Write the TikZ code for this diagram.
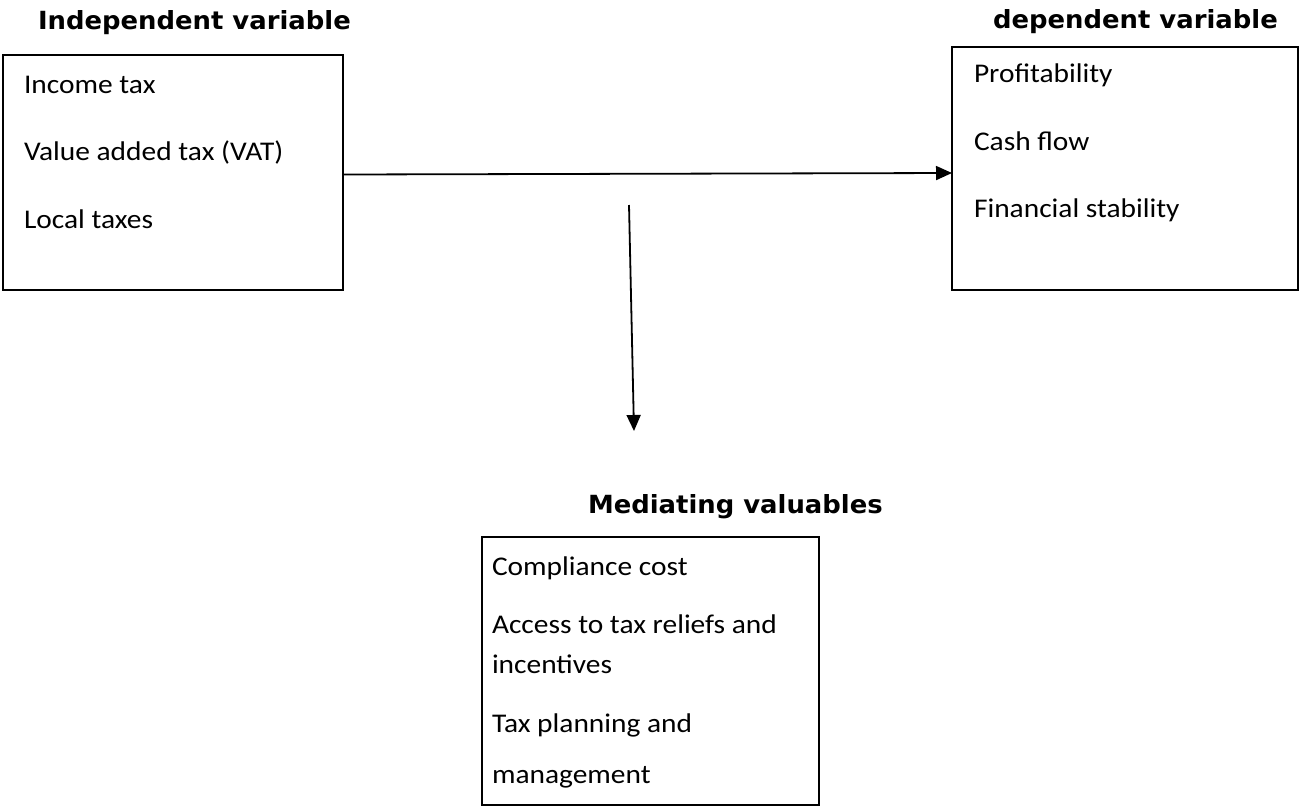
\documentclass[tikz,border=0pt]{standalone}
\usepackage{fontspec}
\setmainfont{Carlito}[FakeStretch=1.09]
\newfontfamily\headfont{DejaVu Sans}[FakeStretch=1.035]
\usepackage{tikz}
\usetikzlibrary{arrows.meta}

\begin{document}
\begin{tikzpicture}[x=1pt,y=-1pt,
  every node/.style={inner sep=0pt,outer sep=0pt},
  varbox/.style={draw,line width=1.8pt,anchor=north west},
  item/.style={anchor=base west,font=\fontsize{27}{32}\selectfont},
  head/.style={anchor=base west,font=\headfont\bfseries\fontsize{25}{30}\selectfont},
  link/.style={line width=1.8pt,-{Triangle[length=16pt,width=14pt]}}]
\useasboundingbox (0,0) rectangle (1301,807);
\node[varbox,minimum width=340pt,minimum height=235pt] (indep) at (3,55) {};
\node[varbox,minimum width=346pt,minimum height=243pt] (dep) at (952,47) {};
\node[varbox,minimum width=337pt,minimum height=268pt] (med) at (482,537) {};
\node[head] (hindep) at (38,29) {Independent variable};
\node[head] (hdep) at (993,28) {dependent variable};
\node[head] (hmed) at (588,513) {Mediating valuables};
\node[item] (i1) at (24,93) {Income tax};
\node[item] (i2) at (24,160) {Value added tax (VAT)};
\node[item] (i3) at (24,228) {Local taxes};
\node[item] (d1) at (974,82) {Profitability};
\node[item] (d2) at (974,150) {Cash flow};
\node[item] (d3) at (974,217) {Financial stability};
\node[item] (m1) at (492,575) {Compliance cost};
\node[item] (m2) at (492,633) {Access to tax reliefs and};
\node[item] (m3) at (492,673) {incentives};
\node[item] (m4) at (492,732) {Tax planning and};
\node[item] (m5) at (492,783) {management};
\coordinate (mtop) at (629,205);
\coordinate (mtip) at (634,431);
\draw[link] ([yshift=-2pt]indep.east) -- ([yshift=-4.5pt]dep.west);
\draw[link] (mtop) -- (mtip);
\end{tikzpicture}
\end{document}
